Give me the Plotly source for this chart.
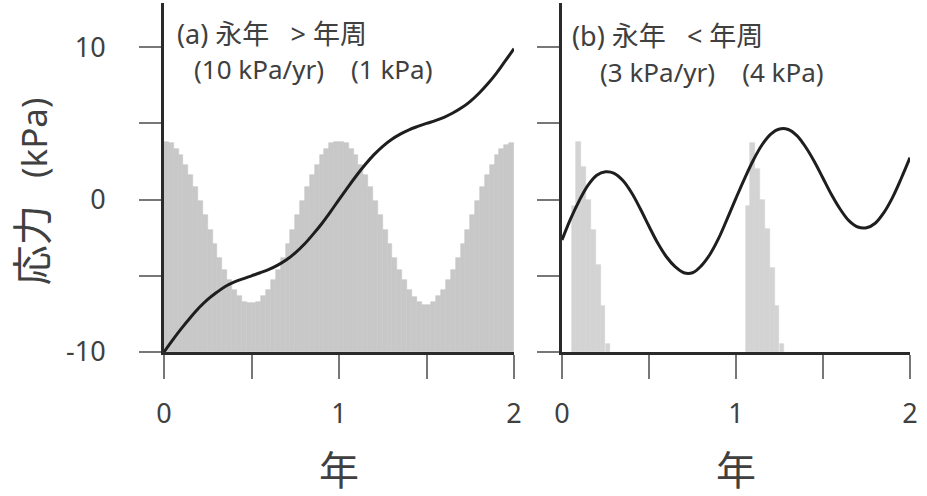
import numpy as np
import plotly.graph_objects as go

# ---------------- data ----------------
BIN = 1.0 / 36.0  # ~10-day histogram bins, in years

# panel (a): histogram tops (kPa), 72 bins covering 0..2 yr
hist_a_top = [3.8, 3.7, 3.3, 2.9, 2.3, 1.6, 0.8, -0.1, -1.0, -2.0, -2.9, -3.8,
              -4.6, -5.3, -5.9, -6.3, -6.7, -6.8, -6.8, -6.7, -6.3, -5.9, -5.3, -4.6,
              -3.8, -2.9, -2.0, -1.0, -0.1, 0.8, 1.6, 2.3, 2.9, 3.3, 3.7, 3.8,
              3.8, 3.7, 3.3, 2.9, 2.3, 1.6, 0.8, -0.1, -1.0, -2.0, -2.9, -3.8,
              -4.6, -5.3, -5.9, -6.4, -6.7, -6.9, -6.9, -6.7, -6.3, -5.9, -5.3, -4.6,
              -3.8, -2.9, -2.0, -1.0, -0.1, 0.8, 1.6, 2.3, 2.9, 3.3, 3.6, 3.7]

# panel (a): stress curve, sampled every 0.05 yr
line_a = [-10.0, -9.2, -8.45, -7.75, -7.1, -6.55, -6.1, -5.7, -5.42, -5.2, -5.0,
          -4.8, -4.58, -4.3, -3.95, -3.5, -2.95, -2.3, -1.6, -0.82, 0.0,
          0.8, 1.58, 2.3, 2.95, 3.5, 3.95, 4.3, 4.58, 4.8, 5.0,
          5.18, 5.4, 5.68, 6.02, 6.45, 6.98, 7.6, 8.3, 9.1, 9.9]

# panel (b): histogram bins (centres in yr) and tops (kPa)
hist_b_x = [0.069, 0.097, 0.125, 0.153, 0.181, 0.208, 0.236, 0.264,
            1.069, 1.097, 1.125, 1.153, 1.181, 1.208, 1.236, 1.264]
hist_b_top = [-0.4, 3.8, 2.15, 0.0, -2.0, -4.3, -7.0, -9.45,
              -0.4, 3.7, 2.0, 0.0, -1.9, -4.5, -7.0, -9.5]

# panel (b): stress curve, sampled every 0.05 yr
line_b = [-2.65, -1.25, -0.05, 0.95, 1.6, 1.82, 1.72, 1.25, 0.45, -0.6, -1.75,
          -2.85, -3.75, -4.4, -4.8, -4.8, -4.35, -3.6, -2.55, -1.25, 0.1,
          1.4, 2.6, 3.6, 4.3, 4.63, 4.6, 4.2, 3.45, 2.5, 1.4,
          0.3, -0.65, -1.4, -1.8, -1.85, -1.55, -0.85, 0.15, 1.4, 2.75]

BASE = -10.0
t_line = np.linspace(0, 2, len(line_a))
hist_a_x = [(k + 0.5) * BIN for k in range(len(hist_a_top))]

FONT = "Noto Sans, Noto Sans CJK JP, sans-serif"
TXT = "#404040"

fig = go.Figure()

# ---- panel (a)
fig.add_trace(go.Bar(x=hist_a_x, y=[v - BASE for v in hist_a_top], base=BASE,
                     width=BIN, marker=dict(color="#c8c8c8", line=dict(color="#c8c8c8", width=0.6)),
                     xaxis="x", yaxis="y", showlegend=False, hoverinfo="skip"))
fig.add_trace(go.Scatter(x=t_line, y=line_a, mode="lines", line=dict(color="#1e1e1e", width=3, shape="spline"),
                         xaxis="x", yaxis="y", showlegend=False))

# ---- panel (b)
fig.add_trace(go.Bar(x=hist_b_x, y=[v - BASE for v in hist_b_top], base=BASE,
                     width=BIN, marker=dict(color="#d3d3d3", line=dict(color="#d3d3d3", width=0.6)),
                     xaxis="x2", yaxis="y2", showlegend=False, hoverinfo="skip"))
fig.add_trace(go.Scatter(x=t_line, y=line_b, mode="lines", line=dict(color="#1e1e1e", width=3, shape="spline"),
                         xaxis="x2", yaxis="y2", showlegend=False))

xt = dict(range=[0, 2], showline=True, linecolor="#2a2a2a", linewidth=3, showgrid=False, zeroline=False,
          ticks="outside", ticklen=24, tickwidth=1.5, tickcolor="#777777",
          tickvals=[0, 0.5, 1, 1.5, 2], ticktext=["0", "", "1", "", "2"],
          tickfont=dict(family=FONT, size=27, color=TXT), ticklabelstandoff=12, fixedrange=True)
yt = dict(range=[-10, 12.9], showline=True, linecolor="#2a2a2a", linewidth=3, showgrid=False, zeroline=False,
          ticks="outside", ticklen=22, tickwidth=1.5, tickcolor="#777777",
          tickvals=[-10, -5, 0, 5, 10], fixedrange=True,
          tickfont=dict(family=FONT, size=27, color=TXT))

fig.update_layout(
    width=927, height=496,
    margin=dict(l=164, r=17, t=3, b=144),
    paper_bgcolor="white", plot_bgcolor="white",
    bargap=0,
    xaxis=dict(domain=[0, 0.4692], anchor="y", **xt),
    xaxis2=dict(domain=[0.5335, 1], anchor="y2", **xt),
    yaxis=dict(anchor="x", ticktext=["-10", "", "0", "", "10"], ticklabelstandoff=28, **yt),
    yaxis2=dict(anchor="x2", showticklabels=False, **yt),
)

SP = "&nbsp;"
ann = []
# panel labels
ann.append(dict(xref="x", yref="y", x=0.063, y=10.9, xanchor="left", yanchor="middle",
                text="(a) 永年" + SP * 3 + "&gt;" + SP + "年周",
                font=dict(family=FONT, size=27, color=TXT), showarrow=False))
ann.append(dict(xref="x", yref="y", x=0.160, y=8.6, xanchor="left", yanchor="middle",
                text="(10 kPa/yr)" + SP * 4 + "(1 kPa)",
                font=dict(family=FONT, size=26, color=TXT), showarrow=False))
ann.append(dict(xref="x2", yref="y2", x=0.046, y=10.75, xanchor="left", yanchor="middle",
                text="(b) 永年" + SP * 3 + "&lt;" + SP + "年周",
                font=dict(family=FONT, size=27, color=TXT), showarrow=False))
ann.append(dict(xref="x2", yref="y2", x=0.205, y=8.35, xanchor="left", yanchor="middle",
                text="(3 kPa/yr)" + SP * 4 + "(4 kPa)",
                font=dict(family=FONT, size=26, color=TXT), showarrow=False))
# axis titles
ann.append(dict(xref="x", yref="paper", x=1, y=-0.338, xanchor="center", yanchor="middle",
                text="年", font=dict(family=FONT, size=40, color=TXT), showarrow=False))
ann.append(dict(xref="x2", yref="paper", x=1, y=-0.338, xanchor="center", yanchor="middle",
                text="年", font=dict(family=FONT, size=40, color=TXT), showarrow=False))
ann.append(dict(xref="paper", yref="paper", x=-0.178, y=0.461, xanchor="center", yanchor="middle",
                textangle=-90,
                text="<span style='font-size:40px'>応力</span>" + SP * 3 + "(kPa)",
                font=dict(family=FONT, size=35, color=TXT), showarrow=False))
fig.update_layout(annotations=ann)

fig.write_html("out.html")
